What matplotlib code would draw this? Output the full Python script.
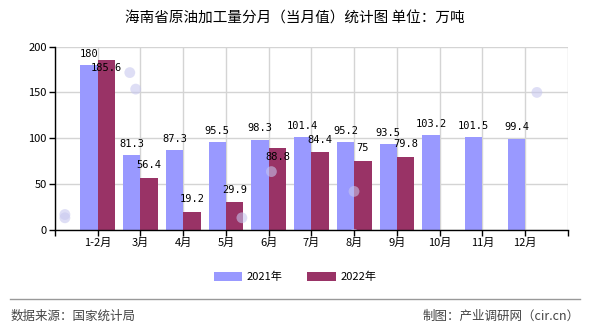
import numpy as np
import matplotlib
matplotlib.use('Agg')
import matplotlib.pyplot as plt

plt.rcParams['font.family'] = ['Noto Sans CJK SC', 'DejaVu Sans']

months = ['1-2月', '3月', '4月', '5月', '6月', '7月', '8月', '9月', '10月', '11月', '12月']
vals_2021 = [180, 81.3, 87.3, 95.5, 98.3, 101.4, 95.2, 93.5, 103.2, 101.5, 99.4]
vals_2022 = [185.6, 56.4, 19.2, 29.9, 88.8, 84.4, 75, 79.8]

c21 = '#9999ff'
c22 = '#993366'

fig = plt.figure(figsize=(5.9, 3.3), dpi=100)
ax = fig.add_axes([0.0932, 0.3045, 0.8695, 0.5545])

x = np.arange(len(months))
w = 0.405
b1 = ax.bar(x - w / 2, vals_2021, w, color=c21, label='2021年', zorder=3)
x22 = np.arange(len(vals_2022))
b2 = ax.bar(x22 + w / 2, vals_2022, w, color=c22, label='2022年', zorder=3)

lab_font = dict(family='DejaVu Sans Mono', fontsize=7.5, color='black', zorder=5)
for xi, v in zip(x, vals_2021):
    ax.annotate(f'{v:g}', (xi - w / 2, v), xytext=(0, 8), textcoords='offset points',
                ha='center', va='center', **lab_font)
for xi, v in enumerate(vals_2022):
    # push the label into the bar when it would sit on top of the 2021 label
    dy = -6 if abs(v - vals_2021[xi]) < 12 else 9
    ax.annotate(f'{v:g}', (xi + w / 2, v), xytext=(0, dy), textcoords='offset points',
                ha='center', va='center', **lab_font)

ax.set_xlim(-1, 11)
ax.set_ylim(0, 200)
ax.set_yticks([0, 50, 100, 150, 200])
ax.set_xticks(np.arange(-1, 12))
ax.set_xticklabels([''] + months + [''])
ax.tick_params(axis='both', labelsize=8, length=4, width=1, pad=2)
ax.grid(True, color='#d4d4d4', linewidth=1, zorder=0)
ax.set_axisbelow(True)
for s in ['top', 'right']:
    ax.spines[s].set_visible(False)
for s in ['left', 'bottom']:
    ax.spines[s].set_linewidth(1)
    ax.spines[s].set_zorder(4)

# faint decorative bubbles in the background
bx = [0.11, 0.22, 0.23, 0.46, 0.60, 0.11, 0.41, 0.48, 0.60, 0.75, 0.91]
by = [0.34, 0.78, 0.73, 0.48, 0.42, 0.35, 0.34, 0.24, 0.29, 0.21, 0.72]
fig.add_artist(plt.scatter(bx, by, s=60, color='#c8c8f0', alpha=0.35, edgecolors='none',
                           transform=fig.transFigure, zorder=6))

fig.text(0.5, 0.945, '海南省原油加工量分月（当月值）统计图 单位：万吨',
         ha='center', va='center', fontsize=10.5)

fig.legend(handles=[b1, b2], loc='center', bbox_to_anchor=(0.5, 0.16), ncol=2,
           frameon=False, fontsize=8, handlelength=2.6, handleheight=0.9,
           columnspacing=2.2, handletextpad=0.4)

fig.add_artist(plt.Line2D([0.017, 0.983], [0.095, 0.095], color='#999999', linewidth=1))
fig.text(0.017, 0.043, '数据来源：国家统计局', ha='left', va='center', fontsize=9, color='#444444')
fig.text(0.983, 0.043, '制图：产业调研网（cir.cn）', ha='right', va='center', fontsize=9, color='#444444')

fig.savefig('out.png', dpi=100, facecolor='white')
